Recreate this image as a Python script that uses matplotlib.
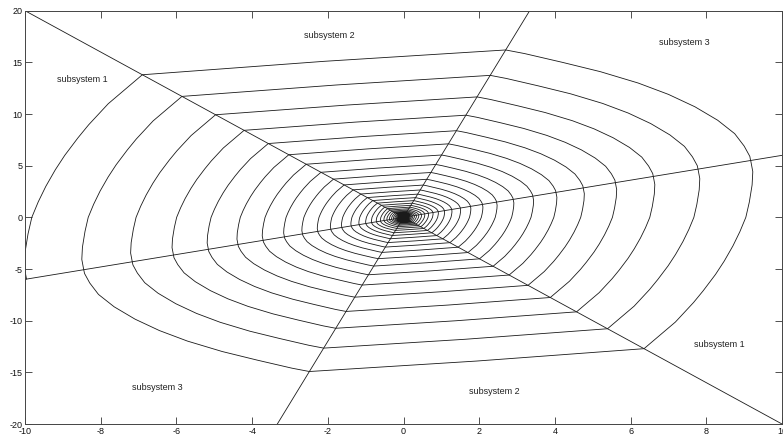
import numpy as np
import matplotlib
matplotlib.use("Agg")
import matplotlib.pyplot as plt

# ---------------- data ----------------
# switching lines through the origin (slopes)
switch_slopes = [-2.0, 0.6, 6.0]

# outermost half-turn of the trajectory
# arc in "subsystem 1" (left sector): from line y=0.6x up to line y=-2x
arcA_x = [-9.96, -10.02, -10.00, -9.92, -9.82, -9.65, -9.45, -9.20, -8.95, -8.60, -8.32, -7.80, -7.35, -6.90]
arcA_y = [-5.97, -4.80, -3.40, -1.60, 0.00, 1.50, 3.00, 4.60, 6.00, 7.70, 8.95, 11.00, 12.40, 13.80]
# arc in "subsystem 2" (top sector): from line y=-2x to line y=6x
arcB_x = [-6.90, -2.10, 2.70]
arcB_y = [13.80, 15.10, 16.20]
# arc in "subsystem 3" (upper-right sector): from line y=6x down to line y=0.6x
arcC_x = [2.70, 3.20, 4.20, 5.20, 6.20, 7.00, 7.70, 8.30, 8.75, 9.00, 9.15, 9.17]
arcC_y = [16.20, 15.85, 15.00, 14.10, 13.00, 11.90, 10.70, 9.40, 8.10, 6.90, 5.90, 5.50]

# ratio between successive (opposite) crossings of the same switching line
half_turn_ratio = 0.921
n_half_turns = 72

x_ticks = [-10, -8, -6, -4, -2, 0, 2, 4, 6, 8, 10]
y_ticks = [-20, -15, -10, -5, 0, 5, 10, 15, 20]

label_text = ["subsystem 1", "subsystem 2", "subsystem 3",
              "subsystem 1", "subsystem 2", "subsystem 3"]
label_x = [-9.15, -2.63, 6.75, 7.67, 1.73, -7.17]
label_y = [13.3, 17.58, 16.95, -12.3, -16.87, -16.48]

# ---------------- figure ----------------
plt.rcParams['font.family'] = ['Liberation Sans', 'DejaVu Sans']

fig = plt.figure(figsize=(7.83, 4.38), dpi=100)
ax = fig.add_axes([25 / 783, 14 / 438, 757 / 783, 413.3 / 438])

line_kw = dict(color='#1a1a1a', lw=0.6)

for s in switch_slopes:
    ax.axline((0, 0), slope=s, **line_kw)

half_x = np.array(arcA_x + arcB_x[1:] + arcC_x[1:])
half_y = np.array(arcA_y + arcB_y[1:] + arcC_y[1:])
traj_x, traj_y = [], []
for n in range(n_half_turns):
    f = (-half_turn_ratio) ** n
    traj_x.append(f * half_x)
    traj_y.append(f * half_y)
ax.plot(np.concatenate(traj_x), np.concatenate(traj_y), **line_kw)

for t, x, y in zip(label_text, label_x, label_y):
    ax.text(x, y, t, fontsize=6.5, ha='left', va='center', color='#222222')

ax.set_xlim(-10, 10)
ax.set_ylim(-20, 20)
ax.set_xticks(x_ticks)
ax.set_yticks(y_ticks)
ax.set_xticklabels([str(v) for v in x_ticks])
ax.set_yticklabels([str(v) for v in y_ticks])
ax.tick_params(direction='in', length=5, width=0.6, labelsize=6.5,
               top=True, right=True, pad=2, colors='#333333', labelcolor='#111111')
for sp in ax.spines.values():
    sp.set_linewidth(0.7)
    sp.set_color('#444444')

fig.savefig('out.png', dpi=100)
